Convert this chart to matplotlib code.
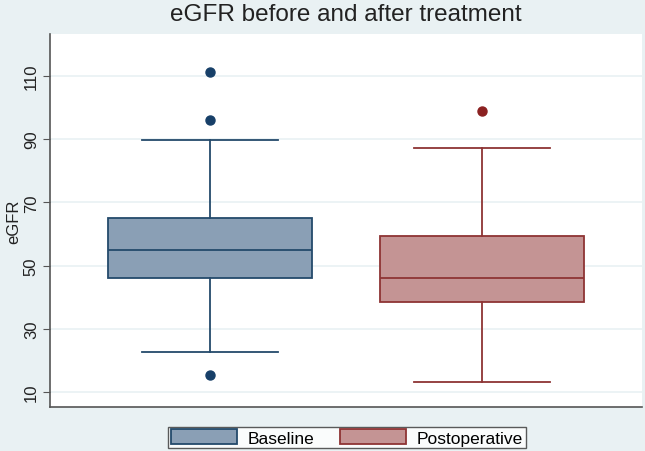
import matplotlib
matplotlib.use("Agg")
import matplotlib.pyplot as plt
from matplotlib.patches import Patch

plt.rcParams['font.family'] = ['Liberation Sans', 'DejaVu Sans']

groups = ["Baseline", "Postoperative"]
q1 = [46.2, 38.6]
med = [54.8, 46.2]
q3 = [64.9, 59.2]
whislo = [22.6, 13.2]
whishi = [89.7, 87.1]
fliers = [[111.3, 96.0, 15.2], [99.0]]
yticks = [10, 30, 50, 70, 90, 110]

fills = ["#8a9fb5", "#c49494"]
edges = ["#244a6b", "#8e3434"]
flier_cols = ["#173f68", "#8b2121"]
bg = "#e9f1f3"

fig = plt.figure(figsize=(6.45, 4.52), dpi=100, facecolor=bg)
ax = fig.add_axes([50/645, 44/452, 592/645, 373/452])
ax.set_facecolor("white")

stats = []
for i, g in enumerate(groups):
    stats.append(dict(label=g, q1=q1[i], med=med[i], q3=q3[i],
                      whislo=whislo[i], whishi=whishi[i], fliers=fliers[i]))

for i, s in enumerate(stats):
    ax.bxp([s], positions=[i + 1], widths=0.75, capwidths=0.5, patch_artist=True,
           boxprops=dict(facecolor=fills[i], edgecolor=edges[i], linewidth=1.3),
           medianprops=dict(color=edges[i], linewidth=1.3),
           whiskerprops=dict(color=edges[i], linewidth=1.3),
           capprops=dict(color=edges[i], linewidth=1.3),
           flierprops=dict(marker="o", markerfacecolor=flier_cols[i],
                           markeredgecolor=flier_cols[i], markersize=6.5),
           zorder=3)

ax.set_xlim(0.412, 2.588)
ax.set_ylim(5.2, 123.3)
ax.set_xticks([])
ax.set_yticks(yticks)
ax.set_yticklabels([str(t) for t in yticks], rotation=90, va="center", fontsize=12, color="#222222")
ax.tick_params(axis="y", length=5, width=0.8, color="#555555", pad=3)
ax.yaxis.grid(True, color="#e9f1f3", linewidth=1.2, zorder=0)
ax.set_axisbelow(True)
for sp in ["top", "right"]:
    ax.spines[sp].set_visible(False)
for sp in ["left", "bottom"]:
    ax.spines[sp].set_color("#555555")
    ax.spines[sp].set_linewidth(1.2)
ax.set_ylabel("eGFR", fontsize=12, color="#222222", labelpad=2)

fig.text(346/645, 0.992, "eGFR before and after treatment", ha="center", va="top",
         fontsize=17.5, color="#222222")

handles = [Patch(facecolor=fills[i], edgecolor=edges[i], linewidth=1.3, label=groups[i]) for i in range(2)]
leg = fig.legend(handles=handles, loc="center", bbox_to_anchor=(347/645, 1 - 438.5/452), ncol=2,
                 fontsize=12.5, frameon=True, fancybox=False, edgecolor="#333333",
                 handlelength=3.8, handleheight=0.9, handletextpad=0.6, columnspacing=1.5,
                 borderpad=0.15, borderaxespad=0)
leg.get_frame().set_linewidth(1.0)
leg.get_frame().set_facecolor("white")

fig.savefig("out.png", dpi=100, facecolor=bg)
